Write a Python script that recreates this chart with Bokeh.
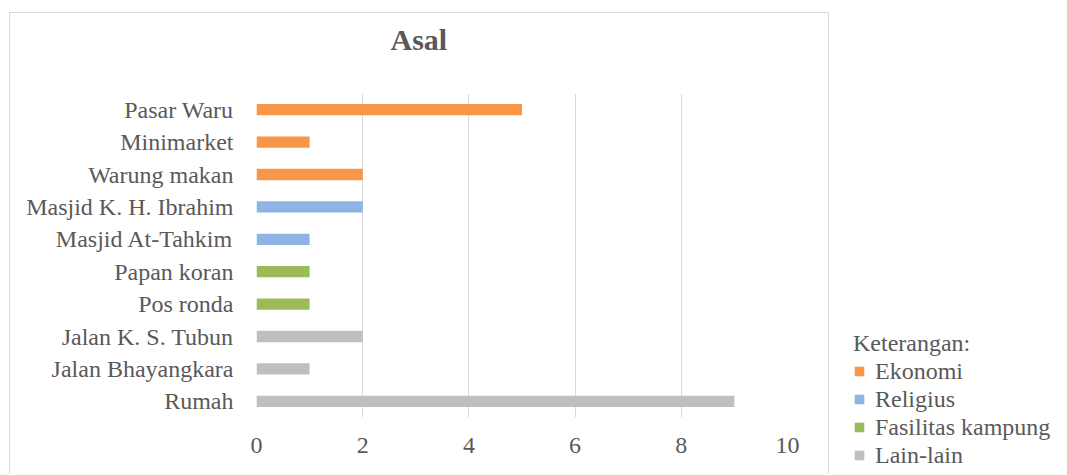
from bokeh.plotting import figure
from bokeh.models import (Range1d, FactorRange, Legend, LegendItem, Title,
                          FixedTicker, LinearAxis)
from bokeh.layouts import row, column
from bokeh.embed import file_html
from bokeh.resources import INLINE

# ---- data (top to bottom as shown) ----
places = ["Pasar Waru", "Minimarket", "Warung makan", "Masjid K. H. Ibrahim",
          "Masjid At-Tahkim", "Papan koran", "Pos ronda", "Jalan K. S. Tubun",
          "Jalan Bhayangkara", "Rumah"]
counts = [5, 1, 2, 2, 1, 1, 1, 2, 1, 9]
groups = ["Ekonomi", "Ekonomi", "Ekonomi", "Religius", "Religius",
          "Fasilitas kampung", "Fasilitas kampung", "Lain-lain", "Lain-lain",
          "Lain-lain"]
group_names = ["Ekonomi", "Religius", "Fasilitas kampung", "Lain-lain"]
group_colors = ["#F79646", "#8EB4E3", "#9BBB59", "#BFBFBF"]
x_ticks = [0, 2, 4, 6, 8, 10]
title_text = "Asal"
legend_title = "Keterangan:"

FONT = "Liberation Serif"
TXT = "#595959"
BORDER = "1px solid #D9D9D9"

p = figure(width=820, height=462, output_backend="svg", toolbar_location=None,
           y_range=FactorRange(factors=list(reversed(places)), range_padding=0),
           x_range=Range1d(0, 10),
           min_border_left=246, min_border_right=43,
           min_border_top=80, min_border_bottom=58)
p.margin = (12, 0, 0, 9)
p.styles = {"border-top": BORDER, "border-left": BORDER, "border-right": BORDER}
p.outline_line_color = None
p.background_fill_color = "white"
p.border_fill_color = "white"

for g, c in zip(group_names, group_colors):
    ys = [pl for pl, gg in zip(places, groups) if gg == g]
    xs = [v for v, gg in zip(counts, groups) if gg == g]
    p.hbar(y=ys, right=xs, left=0, height=0.35, fill_color=c, line_color=None)

# white (invisible) spacer axis next to the plot area, then the title above it
spacer = LinearAxis(ticker=FixedTicker(ticks=[0]), axis_line_color=None,
                    major_tick_line_color="white", major_tick_line_width=1,
                    minor_tick_line_color=None,
                    major_tick_out=29, major_tick_in=0, minor_tick_out=0,
                    major_label_standoff=0, major_label_text_color="white",
                    major_label_text_font_size="1px")
p.add_layout(spacer, "above")
p.add_layout(Title(text=title_text, align="left", offset=134, standoff=10,
                   text_font=FONT, text_font_size="30px", text_font_style="bold",
                   text_color=TXT), "above")

# bottom axis
xa = p.below[0]
xa.ticker = FixedTicker(ticks=x_ticks)
xa.axis_line_color = None
xa.major_tick_line_color = None
xa.minor_tick_line_color = None
xa.major_tick_out = 0
xa.major_tick_in = 0
xa.major_label_standoff = 20
xa.major_label_text_font = FONT
xa.major_label_text_font_size = "24px"
xa.major_label_text_color = TXT

p.yaxis.axis_line_color = None
p.yaxis.major_tick_line_color = None
p.yaxis.major_tick_out = 0
p.yaxis.major_tick_in = 0
p.yaxis.major_label_standoff = 23
p.yaxis.major_label_text_font = FONT
p.yaxis.major_label_text_font_size = "24px"
p.yaxis.major_label_text_color = TXT

p.xgrid.grid_line_color = "#D9D9D9"
p.xgrid.grid_line_width = 1
p.ygrid.grid_line_color = None

# ---- legend panel (bars kept off-frame; only the legend shows) ----
q = figure(width=236, height=475, output_backend="svg", toolbar_location=None,
           x_range=Range1d(-3, -2),
           y_range=FactorRange(factors=list(reversed(places))),
           x_axis_type=None, y_axis_type=None,
           min_border=0, min_border_left=0, min_border_right=0,
           min_border_top=0, min_border_bottom=0)
q.outline_line_color = None
q.grid.visible = False
items = []
for g, c in zip(group_names, group_colors):
    ys = [pl for pl, gg in zip(places, groups) if gg == g]
    xs = [v for v, gg in zip(counts, groups) if gg == g]
    r = q.hbar(y=ys, right=xs, left=0, height=0.35, fill_color=c, line_color=None)
    items.append(LegendItem(label=g, renderers=[r]))

legend = Legend(items=items, location=(24, 6), title=legend_title,
                title_text_font=FONT, title_text_font_size="24px",
                title_text_color=TXT, title_text_font_style="normal",
                title_standoff=0,
                label_text_font=FONT, label_text_font_size="24px",
                label_text_color=TXT, glyph_width=12, glyph_height=12,
                label_standoff=10, label_height=28, spacing=0, padding=0,
                margin=0, border_line_color=None, background_fill_alpha=0)
q.add_layout(legend)

layout = row(p, column(q))
layout.spacing = 0
open("out.html", "w").write(file_html(layout, INLINE))
